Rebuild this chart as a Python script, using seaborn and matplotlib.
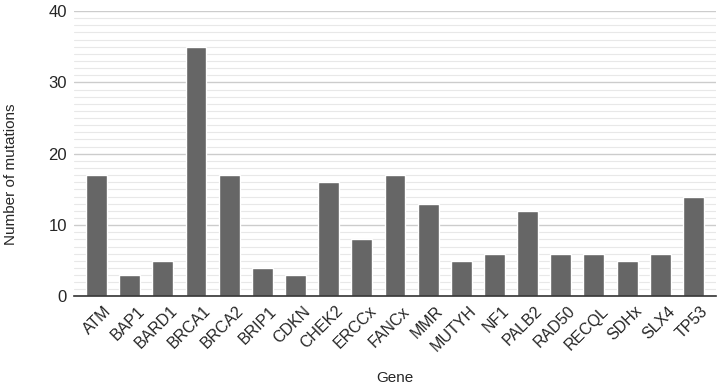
import matplotlib
matplotlib.use("Agg")
import matplotlib.pyplot as plt
import matplotlib.transforms as mtransforms
import seaborn as sns
import pandas as pd
from matplotlib.ticker import MultipleLocator

genes = ["ATM", "BAP1", "BARD1", "BRCA1", "BRCA2", "BRIP1", "CDKN", "CHEK2",
         "ERCCx", "FANCx", "MMR", "MUTYH", "NF1", "PALB2", "RAD50", "RECQL",
         "SDHx", "SLX4", "TP53"]
mutations = [17, 3, 5, 35, 17, 4, 3, 16, 8, 17, 13, 5, 6, 12, 6, 6, 5, 6, 14]

df = pd.DataFrame({"Gene": genes, "Number of mutations": mutations})

sns.set_style("white")
plt.rcParams['font.family'] = ['Liberation Sans', 'DejaVu Sans']

fig, ax = plt.subplots(figsize=(7.21, 3.89), dpi=100)
fig.subplots_adjust(left=0.1026, right=0.993, top=0.9717, bottom=0.2378)

sns.barplot(data=df, x="Gene", y="Number of mutations", color="#666666",
            width=0.63, saturation=1, ax=ax, zorder=3)

ax.set_ylim(0, 40)
ax.set_xlim(-0.68, 18.68)
ax.yaxis.set_major_locator(MultipleLocator(10))
ax.yaxis.set_minor_locator(MultipleLocator(1))
ax.grid(axis='y', which='major', color='#cccccc', linewidth=1, zorder=0)
ax.grid(axis='y', which='minor', color='#e8e8e8', linewidth=0.8, zorder=0)
ax.set_axisbelow(True)

for s in ['top', 'right', 'left']:
    ax.spines[s].set_visible(False)
ax.spines['bottom'].set_color('#333333')
ax.spines['bottom'].set_linewidth(1.2)
ax.spines['bottom'].set_zorder(4)

ax.tick_params(axis='y', which='both', length=0, labelsize=12, pad=5)
ax.tick_params(axis='x', length=0, labelsize=11.5, pad=5)
shift = mtransforms.ScaledTranslation(5 / 72, 0, fig.dpi_scale_trans)
for lbl in ax.get_xticklabels():
    lbl.set_rotation(45)
    lbl.set_ha('right')
    lbl.set_rotation_mode('anchor')
    lbl.set_transform(lbl.get_transform() + shift)

ax.set_xlabel("Gene", fontsize=11)
ax.set_ylabel("Number of mutations", fontsize=11)
ax.xaxis.set_label_coords(0.5, -0.26)
ax.yaxis.set_label_coords(-0.087, 0.428)

fig.savefig("out.png", dpi=100)
